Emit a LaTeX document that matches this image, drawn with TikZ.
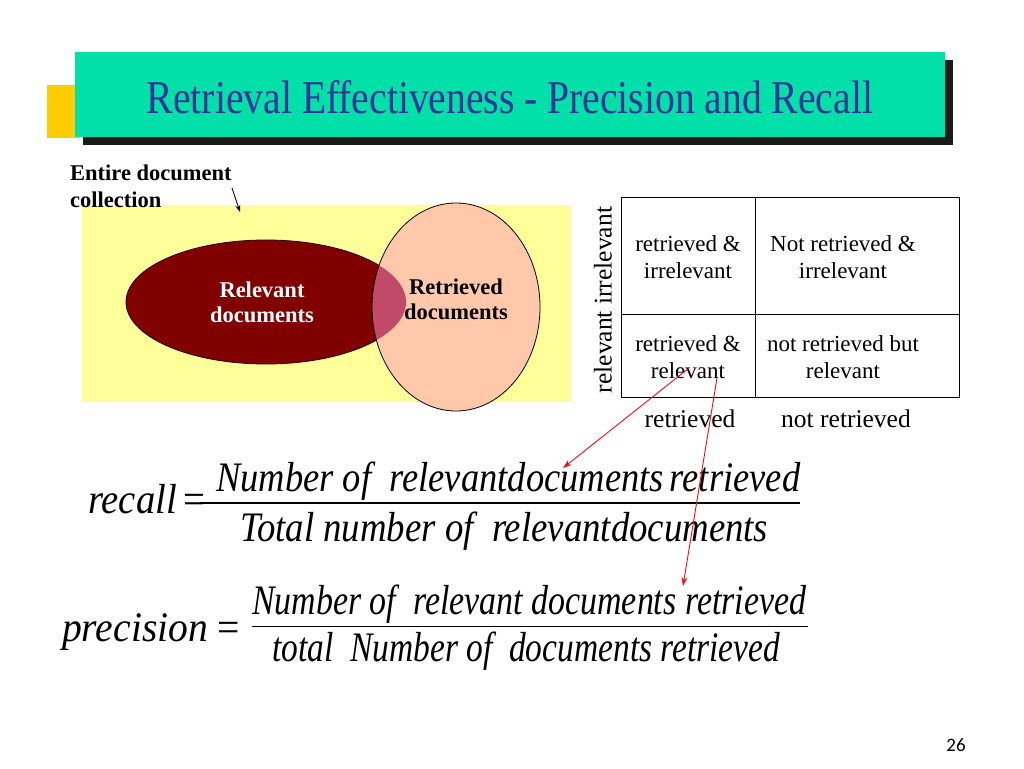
\documentclass[tikz,border=0pt]{standalone}
\usepackage{fontspec}
\usepackage{graphicx}
\setmainfont{Liberation Serif}
\newfontfamily\pagefont{Carlito}
\definecolor{gold}{HTML}{FFCC00}
\definecolor{titlegreen}{HTML}{00E0A8}
\definecolor{shadowc}{HTML}{1A1A1A}
\definecolor{titleblue}{HTML}{333399}
\definecolor{paleyellow}{HTML}{FFFF99}
\definecolor{darkred}{HTML}{800000}
\definecolor{peach}{HTML}{FFC8AA}
\definecolor{overlap}{HTML}{C04A68}
\definecolor{arrowred}{HTML}{E8101C}
\tikzset{
  titletext/.style={font=\fontsize{47}{50}\selectfont, text=titleblue, inner sep=0pt},
  boldlabel/.style={font=\bfseries\fontsize{22.5}{25}\selectfont, inner sep=0pt, align=center},
  cornerlabel/.style={font=\bfseries\fontsize{22.5}{27}\selectfont, inner sep=0pt, align=left},
  cell/.style={font=\fontsize{23}{26.5}\selectfont, inner sep=0pt, align=center},
  axislabel/.style={font=\fontsize{25.5}{28}\selectfont, inner sep=0pt},
  formula/.style={font=\itshape\fontsize{42}{44}\selectfont, inner sep=0pt, anchor=base west},
  redarrow/.style={draw=arrowred, line width=0.9pt, -{Stealth[length=9pt,width=6pt]}},
}
\usetikzlibrary{arrows.meta}
\begin{document}
\begin{tikzpicture}[x=1pt,y=-1pt]
\useasboundingbox (0,0) rectangle (1024,768);
\fill[white] (0,0) rectangle (1024,768);
% title banner
\fill[gold] (47,85) rectangle (80,138);
\fill[shadowc] (83,60) rectangle (953,145);
\fill[titlegreen] (75,52) rectangle (945,137);
\node[titletext] (title) at (510,97) {\resizebox{726pt}{\height}{Retrieval Effectiveness - Precision and Recall}};
% venn
\fill[paleyellow] (82,205) rectangle (571,402);
\node[cornerlabel, anchor=north west] (entire) at (70,165) {Entire document\\collection};
\coordinate (collarrow) at (240,212);
\coordinate (collstart) at (232,188);
\draw[-{Stealth[length=7pt,width=5pt]}, line width=0.8pt] (collstart) -- (collarrow);
\path[fill=darkred, draw=black!70!darkred, line width=0.8pt] (266,302) ellipse [x radius=140, y radius=62];
\path[fill=peach] (456,307) ellipse [x radius=84, y radius=104];
\begin{scope}
  \clip (456,307) ellipse [x radius=84, y radius=104];
  \fill[overlap] (266,302) ellipse [x radius=140, y radius=62];
\end{scope}
\draw[black, line width=0.8pt] (456,307) ellipse [x radius=84, y radius=104];
\node[boldlabel, text=white] (relevant) at (262,302) {Relevant\\documents};
\node[boldlabel] (retrieved) at (456,299) {Retrieved\\documents};
% table
\draw[line width=1pt] (621,197) rectangle (959,397);
\draw[line width=1pt] (755,197) -- (755,397);
\draw[line width=1pt] (621,314) -- (959,314);
\node[cell] (c11) at (688,257) {retrieved \&\\irrelevant};
\node[cell] (c12) at (843,257) {Not retrieved \&\\irrelevant};
\node[cell] (c21) at (688,357) {retrieved \&\\relevant};
\node[cell] (c22) at (843,357) {not retrieved but\\relevant};
\node[axislabel, rotate=90] (side) at (603,300) {relevant irrelevant};
\node[axislabel] (colA) at (690,419) {retrieved};
\node[axislabel] (colB) at (846,419) {not retrieved};
% formulas
\node[formula] (recall) at (88,513) {\resizebox{117pt}{\height}{recall\,{\upshape=}}};
\node[formula] (rnum) at (216,491) {\resizebox{584pt}{\height}{Number of~ relevantdocuments\,retrieved}};
\node[formula] (rden) at (240,541) {\resizebox{528pt}{\height}{Total number of~ relevantdocuments}};
\coordinate (rbarL) at (200,503);
\coordinate (rbarR) at (800,503);
\draw[line width=1.2pt] (rbarL) -- (rbarR);
\node[formula] (prec) at (62,641) {\resizebox{178pt}{\height}{precision {\upshape=}}};
\node[formula] (pnum) at (252,614) {\resizebox{554pt}{\height}{Number of~ relevant documents retrieved}};
\node[formula] (pden) at (272,661) {\resizebox{508pt}{\height}{total~ Number of~ documents retrieved}};
\coordinate (pbarL) at (252,626);
\coordinate (pbarR) at (808,626);
\draw[line width=0.8pt] (pbarL) -- (pbarR);
% red arrows
\coordinate (a1s) at (689,368);
\coordinate (a1e) at (563,468);
\coordinate (a2s) at (717,378);
\coordinate (a2e) at (683,586);
\draw[redarrow] (a1s) -- (a1e);
\draw[redarrow] (a2s) -- (a2e);
% page number
\node[font=\pagefont\fontsize{19}{22}\selectfont, inner sep=0pt] (page) at (956,745) {26};
\end{tikzpicture}
\end{document}
